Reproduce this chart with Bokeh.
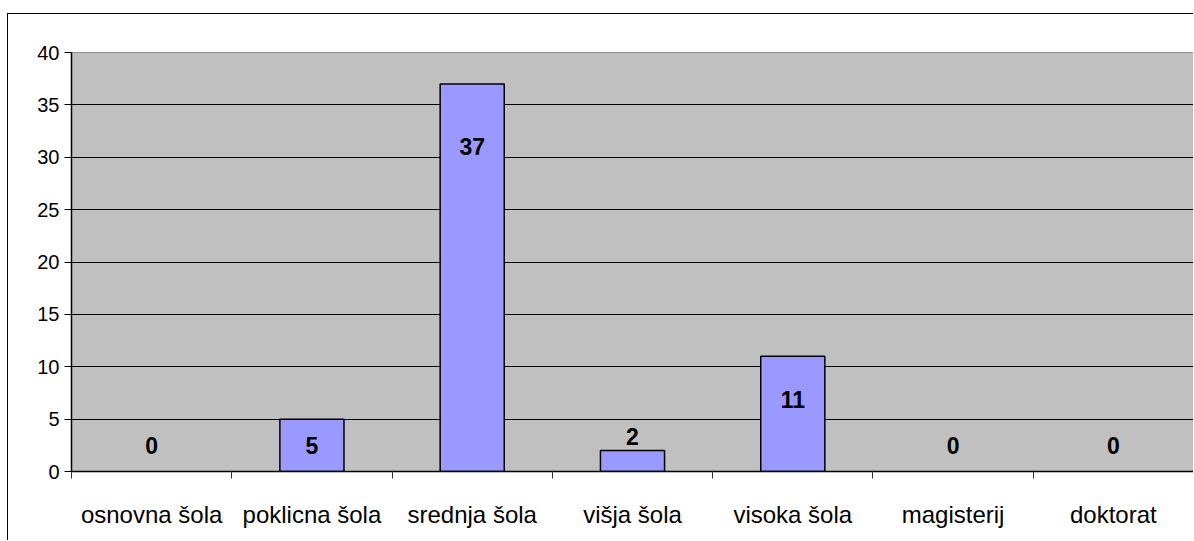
from bokeh.plotting import figure
from bokeh.models import FixedTicker, ColumnDataSource, Range1d
from bokeh.core.properties import value
from bokeh.embed import file_html
from bokeh.resources import INLINE

categories = ["osnovna šola", "poklicna šola", "srednja šola", "višja šola",
              "visoka šola", "magisterij", "doktorat"]
counts = [0, 5, 37, 2, 11, 0, 0]
label_y = [2.5, 2.5, 31, 3.3, 6.9, 2.5, 2.5]
y_ticks = [0, 5, 10, 15, 20, 25, 30, 35, 40]

xs = [i + 0.5 for i in range(len(categories))]
src = ColumnDataSource(dict(x=xs, top=counts, ly=label_y,
                            txt=[str(c) for c in counts],
                            la=[1.0 if c > 0 else 0.0 for c in counts]))

p = figure(width=1186, height=527, output_backend="svg", toolbar_location=None,
           x_range=Range1d(0, len(categories)), y_range=Range1d(0, 40),
           min_border_left=63, min_border_right=1, min_border_top=38,
           min_border_bottom=70,
           styles={"border-left": "1px solid black", "border-top": "1px solid black"},
           margin=(13, 0, 0, 7))

p.background_fill_color = "white"
p.border_fill_color = "white"
p.outline_line_color = "#808080"

# gray plot area
p.quad(left=[0], right=[len(categories)], bottom=[0], top=[40],
       fill_color="#C0C0C0", line_color=None, level="underlay")
p.xgrid.grid_line_color = None
p.ygrid.grid_line_color = "black"
p.ygrid.grid_line_width = 1
p.ygrid.level = "underlay"

p.vbar(x="x", top="top", width=0.4, bottom=0, source=src,
       fill_color="#9999FF", line_color="black", line_width=1.5,
       line_alpha="la", fill_alpha="la")

p.text(x="x", y="ly", text="txt", source=src, text_align="center",
       text_baseline="middle", text_font=value("Liberation Sans"),
       text_font_size="23px", text_font_style="bold", text_color="black")

# y axis
p.yaxis.ticker = FixedTicker(ticks=y_ticks)
p.yaxis.major_label_text_font = "Liberation Sans"
p.yaxis.major_label_text_font_size = "20px"
p.yaxis.major_label_text_color = "black"
p.yaxis.major_tick_out = 7
p.yaxis.major_tick_in = 0
p.yaxis.minor_tick_line_color = None
p.yaxis.axis_line_color = "black"
p.yaxis.axis_line_width = 1.5
p.yaxis.major_tick_line_color = "black"
p.yaxis.major_label_standoff = 5

# x axis: labels at centers, ticks at boundaries
p.xaxis.ticker = FixedTicker(ticks=xs, minor_ticks=list(range(len(categories) + 1)))
p.xaxis.major_label_overrides = {x: c for x, c in zip(xs, categories)}
p.xaxis.major_label_text_font = "Liberation Sans"
p.xaxis.major_label_text_font_size = "24px"
p.xaxis.major_label_text_color = "black"
p.xaxis.major_tick_line_color = None
p.xaxis.major_tick_out = 0
p.xaxis.major_tick_in = 0
p.xaxis.minor_tick_out = 7
p.xaxis.minor_tick_in = 0
p.xaxis.minor_tick_line_color = "#333333"
p.xaxis.axis_line_color = "black"
p.xaxis.axis_line_width = 1.5
p.xaxis.major_label_standoff = 22

open("out.html", "w").write(file_html(p, INLINE))
